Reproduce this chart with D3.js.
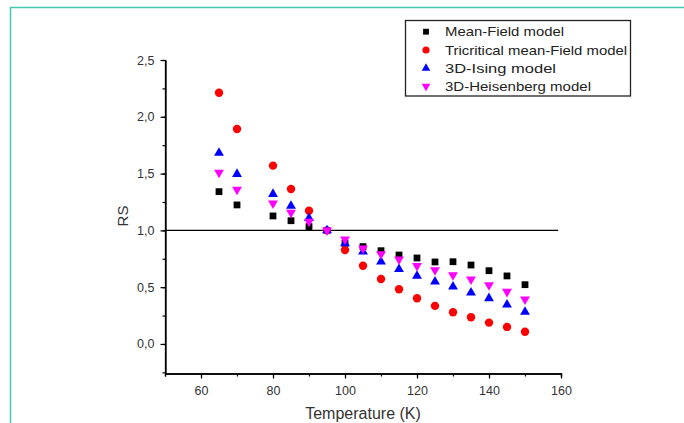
<!DOCTYPE html>
<html><head><meta charset="utf-8">
<script src="https://cdn.jsdelivr.net/npm/d3@7"></script>
<style>
body{margin:0;background:#fff;}
svg{display:block;font-family:"Liberation Sans",Arial,sans-serif;}
</style></head>
<body>
<svg id="c" width="684" height="423"></svg>
<script>
const temperatures = [65,70,80,85,90,95,100,105,110,115,120,125,130,135,140,145,150];
const meanField     = [1.341,1.224,1.127,1.085,1.033,1.0,0.886,0.857,0.821,0.783,0.757,0.722,0.724,0.695,0.645,0.599,0.522];
const tricritical   = [2.212,1.893,1.570,1.364,1.173,1.0,0.827,0.689,0.572,0.482,0.402,0.335,0.279,0.235,0.188,0.150,0.108];
const ising3D       = [1.682,1.496,1.320,1.215,1.107,1.0,0.886,0.812,0.724,0.658,0.599,0.548,0.504,0.452,0.402,0.346,0.282];
const heisenberg3D  = [1.508,1.360,1.239,1.156,1.077,1.0,0.922,0.842,0.792,0.746,0.687,0.651,0.607,0.570,0.519,0.460,0.393];
const seriesNames = ["Mean-Field model","Tricritical mean-Field model","3D-Ising model","3D-Heisenberg model"];
const xTicks = [60,80,100,120,140,160];
const yTicks = [0,0.5,1.0,1.5,2.0,2.5];
const refLine = 1.0;

const svg = d3.select("#c");
const x = d3.scaleLinear().domain([50,160]).range([165,561]);
const y = d3.scaleLinear().domain([-0.26,2.5]).range([373.5,60]);

// frame
svg.append("path").attr("d","M10.5,423 L10.5,7.5 L684,7.5").attr("fill","none")
  .attr("stroke","#45c7b3").attr("stroke-width",1.5);

// axes
const fmt = d => d3.format(".1f")(d).replace(".",",");
const gx = svg.append("g").attr("transform","translate(0,373.5)");
gx.call(d3.axisBottom(x).tickValues(d3.range(50,161,10)).tickSize(3).tickFormat(""));
gx.append("g").call(d3.axisBottom(x).tickValues(xTicks).tickSize(5).tickSizeOuter(0).tickFormat(d3.format("d")));
const gy = svg.append("g").attr("transform","translate(165.5,0)");
gy.call(d3.axisLeft(y).tickValues(d3.range(-0.25,2.51,0.25)).tickSize(3).tickSizeOuter(0).tickFormat(""));
gy.append("g").call(d3.axisLeft(y).tickValues(yTicks).tickSize(5).tickSizeOuter(0).tickFormat(fmt));
svg.selectAll(".domain").attr("stroke","#000").attr("stroke-width",1.3);
svg.selectAll(".tick line").attr("stroke","#000").attr("stroke-width",1.2);
svg.selectAll(".tick text").attr("fill","#333").style("font-size","12.5px").style("font-family","'Liberation Sans',Arial,sans-serif");
gx.selectAll(".tick text").attr("dy","1.05em");
gy.selectAll(".tick text").attr("dx","-0.25em");
gy.select(".domain").remove();
gy.append("line").attr("x1",0).attr("x2",0).attr("y1",y(2.5)).attr("y2",373.5).attr("stroke","#000").attr("stroke-width",1.3);

// reference line
svg.append("line").attr("x1",x(50)).attr("x2",x(159.2)).attr("y1",y(refLine)).attr("y2",y(refLine))
  .attr("stroke","#000").attr("stroke-width",1.2);

// labels
svg.append("text").attr("x",363).attr("y",419).attr("text-anchor","middle").attr("fill","#333")
  .style("font-size","16px").text("Temperature (K)");
svg.append("text").attr("transform","translate(128,216) rotate(-90)").attr("text-anchor","middle").attr("fill","#333")
  .style("font-size","15px").text("RS");

// series
const series = [
  {vals: meanField, color:"#000000", sym: d3.symbolSquare, size:46, rot:0},
  {vals: tricritical, color:"#ff0000", sym: d3.symbolCircle, size:55, rot:0},
  {vals: ising3D, color:"#0000ff", sym: d3.symbolTriangle, size:42, rot:0},
  {vals: heisenberg3D, color:"#ff00ff", sym: d3.symbolTriangle, size:42, rot:180},
];
series.forEach(s=>{
  const path = d3.symbol().type(s.sym).size(s.size)();
  svg.append("g").selectAll("path").data(temperatures.map((t,i)=>[t,s.vals[i]])).join("path")
    .attr("d",path).attr("fill",s.color)
    .attr("transform",d=>`translate(${x(d[0])},${y(d[1])}) rotate(${s.rot})`);
});

// legend
const lg = svg.append("g");
lg.append("rect").attr("x",405.5).attr("y",20.5).attr("width",225).attr("height",75.5)
  .attr("fill","#fff").attr("stroke","#222").attr("stroke-width",1.3);
const rowsY = [31.7,50,68.3,86.3];
const textW = [119,182,111,146];
series.forEach((s,i)=>{
  const sz = s.sym===d3.symbolCircle? 40 : (s.sym===d3.symbolSquare? 34 : 32);
  lg.append("path").attr("d",d3.symbol().type(s.sym).size(sz)()).attr("fill",s.color)
    .attr("transform",`translate(426,${rowsY[i]}) rotate(${s.rot})`);
  lg.append("text").attr("x",445).attr("y",rowsY[i]+4.5).attr("fill","#222")
    .style("font-size","13px").attr("textLength",textW[i]).attr("lengthAdjust","spacingAndGlyphs")
    .text(seriesNames[i]);
});
</script>
</body></html>
